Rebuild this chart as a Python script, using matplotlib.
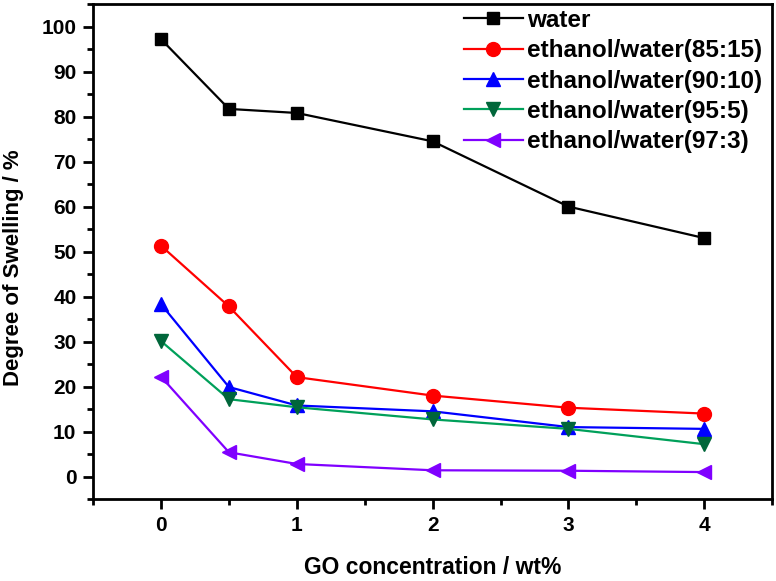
import matplotlib
matplotlib.use("Agg")
import matplotlib.pyplot as plt
from matplotlib.ticker import MultipleLocator

plt.rcParams['font.family'] = ['Liberation Sans', 'DejaVu Sans']
plt.rcParams['font.weight'] = 'bold'

# GO loading (wt%)
go = [0, 0.5, 1, 2, 3, 4]

# degree of swelling (%) per solvent
water = [97.2, 81.7, 80.8, 74.5, 60.0, 53.0]
eth_85 = [51.3, 37.8, 22.1, 18.0, 15.3, 14.0]
eth_90 = [38.3, 19.9, 15.8, 14.5, 11.0, 10.6]
eth_95 = [30.1, 17.2, 15.4, 12.7, 10.6, 7.2]
eth_97 = [22.2, 5.4, 2.8, 1.4, 1.3, 1.0]

labels = ['water', 'ethanol/water(85:15)', 'ethanol/water(90:10)',
          'ethanol/water(95:5)', 'ethanol/water(97:3)']

fig = plt.figure(figsize=(7.76, 5.81), dpi=100)
ax = fig.add_axes([0.12, 0.141, 0.875, 0.852])

ax.plot(go, water, color='black', marker='s', ms=9, lw=1.6, label=labels[0])
ax.plot(go, eth_85, color='#FF0000', marker='o', ms=10, lw=1.6, label=labels[1])
ax.plot(go, eth_90, color='#0000FF', marker='^', ms=10, lw=1.6, label=labels[2])
ax.plot(go, eth_95, color='#00A05A', marker='v', ms=10, lw=1.6,
        mfc='#00663A', mec='#00663A', label=labels[3])
ax.plot(go, eth_97, color='#8000FF', marker='<', ms=10, lw=1.6, label=labels[4])

ax.set_xlim(-0.5, 4.5)
ax.set_ylim(-5, 105)
ax.set_xticks([0, 1, 2, 3, 4])
ax.xaxis.set_minor_locator(MultipleLocator(0.5))
ax.set_yticks(range(0, 101, 10))
ax.yaxis.set_minor_locator(MultipleLocator(5))

ax.tick_params(which='major', direction='out', length=7, width=2, labelsize=15, pad=5)
ax.tick_params(which='minor', direction='out', length=4, width=2)
for sp in ax.spines.values():
    sp.set_linewidth(2)

ax.set_xlabel('GO concentration / wt%', fontsize=16.5, fontweight='bold', labelpad=15)
ax.set_ylabel('Degree of Swelling / %', fontsize=16, fontweight='bold')
ax.yaxis.set_label_coords(-0.102, 0.467)

ax.legend(loc='upper right', bbox_to_anchor=(0.993, 1.0), frameon=False,
          handlelength=2.4, handletextpad=0.2, labelspacing=0.3,
          borderaxespad=0.1, borderpad=0.1,
          prop={'weight': 'bold', 'size': 17.5})

fig.savefig('out.png', dpi=100)
